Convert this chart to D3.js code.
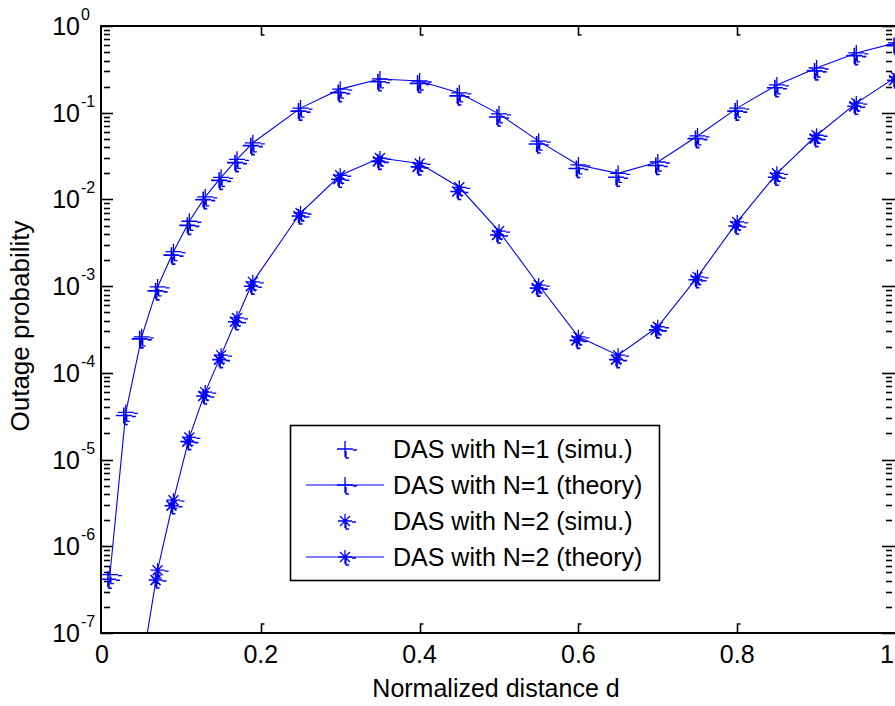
<!DOCTYPE html>
<html>
<head>
<meta charset="utf-8">
<script src="https://cdn.jsdelivr.net/npm/d3@7"></script>
<style>
  body { margin: 0; background: #fff; }
  text { font-family: "Liberation Sans", Arial, sans-serif; fill: #000; }
</style>
</head>
<body>
<script>
let width = 895,
    height = 706;

// normalized distance d
let distance = [0.01, 0.03, 0.05, 0.07, 0.09, 0.11, 0.13, 0.15, 0.17, 0.19,
    0.25, 0.30, 0.35, 0.40, 0.45, 0.50, 0.55, 0.60, 0.65, 0.70, 0.75, 0.80, 0.85, 0.90, 0.95, 1.00];

let n1Theory = [4.7e-7, 3.5e-5, 2.6e-4, 9.8e-4, 2.5e-3, 5.6e-3, 1.07e-2, 1.8e-2, 2.9e-2, 4.5e-2,
    0.113, 0.187, 0.245, 0.232, 0.169, 0.097, 0.047, 0.025, 0.020, 0.027, 0.054, 0.113, 0.209, 0.328, 0.489, 0.64];
let n1Simu = [4.4e-7, 3.4e-5, 2.6e-4, 9.3e-4, 2.4e-3, 5.3e-3, 1.05e-2, 1.75e-2, 2.8e-2, 4.4e-2,
    0.110, 0.180, 0.240, 0.230, 0.165, 0.094, 0.046, 0.024, 0.019, 0.026, 0.053, 0.110, 0.205, 0.320, 0.480, 0.63];

let n2Theory = [null, null, 4e-8, 5.3e-7, 3.4e-6, 1.8e-5, 6.0e-5, 1.6e-4, 4.3e-4, 1.12e-3,
    6.97e-3, 1.9e-2, 3.0e-2, 2.6e-2, 1.38e-2, 4.3e-3, 1.03e-3, 2.6e-4, 1.6e-4, 3.4e-4, 1.28e-3, 5.5e-3, 2.0e-2, 5.5e-2, 0.129, 0.258];
let n2Simu = [null, null, null, 4.3e-7, 3.1e-6, 1.7e-5, 5.7e-5, 1.5e-4, 4.1e-4, 1.05e-3,
    6.8e-3, 1.8e-2, 2.9e-2, 2.5e-2, 1.3e-2, 4.1e-3, 1.0e-3, 2.5e-4, 1.5e-4, 3.3e-4, 1.25e-3, 5.2e-3, 1.9e-2, 5.3e-2, 0.125, 0.25];

let xTicks = [0, 0.2, 0.4, 0.6, 0.8, 1];
let xTickLabels = ["0", "0.2", "0.4", "0.6", "0.8", "1"];
let yExponents = [0, -1, -2, -3, -4, -5, -6, -7];
let legendLabels = ["DAS with N=1 (simu.)", "DAS with N=1 (theory)", "DAS with N=2 (simu.)", "DAS with N=2 (theory)"];

let pLeft = 101, pRight = 896, pTop = 26, pBottom = 633;
let blue = "#0000ff";

let svg = d3.select("body").append("svg")
    .attr("width", width)
    .attr("height", height);

let x = d3.scaleLinear().domain([0, 1]).range([102, pRight]);
let y = d3.scaleLog().domain([1e-7, 1]).range([pBottom, pTop]);

svg.append("defs").append("clipPath").attr("id", "clip")
    .append("rect")
    .attr("x", pLeft).attr("y", pTop)
    .attr("width", pRight - pLeft).attr("height", pBottom - pTop);

// minor + major ticks on left and right
let yMinor = [];
for (let e = -7; e < 0; e++) {
    for (let k = 2; k <= 9; k++) yMinor.push(k * Math.pow(10, e));
}
let tickG = svg.append("g").attr("stroke", "#000").attr("stroke-width", 1.6);
yMinor.forEach(v => {
    let yy = Math.round(y(v)) + 0.5;
    tickG.append("line").attr("x1", pLeft + 3).attr("x2", pLeft + 9).attr("y1", yy).attr("y2", yy);
    tickG.append("line").attr("x1", pRight - 10).attr("x2", pRight - 4).attr("y1", yy).attr("y2", yy);
});
yExponents.forEach(e => {
    let yy = Math.round(y(Math.pow(10, e))) + 0.5;
    tickG.append("line").attr("x1", pLeft).attr("x2", pLeft + 12).attr("y1", yy).attr("y2", yy);
    tickG.append("line").attr("x1", pRight - 14).attr("x2", pRight).attr("y1", yy).attr("y2", yy);
});
xTicks.slice(1, -1).forEach(t => {
    let xx = Math.round(x(t)) + 0.5;
    tickG.append("path").attr("fill", "none").attr("d", `M${xx},${pTop}V${pTop + 9}H${xx + 3}`);
    tickG.append("path").attr("fill", "none").attr("d", `M${xx + 3},${pBottom - 9}H${xx}V${pBottom}`);
});

// y tick labels 10^e
yExponents.forEach(e => {
    let yy = y(Math.pow(10, e));
    svg.append("text")
        .attr("x", 80).attr("y", yy + 9)
        .attr("text-anchor", "end")
        .style("font-size", "25px")
        .text("10");
    svg.append("text")
        .attr("x", 81).attr("y", yy - 6)
        .style("font-size", "16px")
        .text(e === 0 ? "0" : "-" + (-e));
});

// x tick labels (last one pulled inside the picture edge)
svg.selectAll(".xlab")
    .data(xTicks)
    .enter().append("text")
    .attr("class", "xlab")
    .attr("x", d => d === 1 ? 894 : x(d))
    .attr("y", 663)
    .attr("text-anchor", d => d === 1 ? "end" : "middle")
    .style("font-size", "25px")
    .text((d, i) => xTickLabels[i]);

svg.append("text")
    .attr("x", 496).attr("y", 697)
    .attr("text-anchor", "middle")
    .style("font-size", "25px")
    .text("Normalized distance d");

svg.append("text")
    .attr("transform", "translate(29,326) rotate(-90)")
    .attr("text-anchor", "middle")
    .style("font-size", "26px")
    .text("Outage probability");

// marker shapes (with the little offset dashes of the original export)
let plusPath = "M-8,0H8M0,-8V8M1,2V9H4M8,1H12";
let starPath = "M-7,0H7M0,-7V7M-5,-5L5,5M-5,5L5,-5M1,2V8H4M7,1H11";

let plot = svg.append("g").attr("clip-path", "url(#clip)");

let line = d3.line()
    .defined(d => d[1] != null)
    .x(d => x(d[0]))
    .y(d => y(d[1]));

function drawSeries(values, shape, withLine, sw, dx, dy) {
    let pts = distance.map((d, i) => [d, values[i]]);
    if (withLine) {
        plot.append("path")
            .datum(pts)
            .attr("fill", "none")
            .attr("stroke", blue)
            .attr("stroke-width", 1.1)
            .attr("d", line);
    }
    plot.selectAll(null)
        .data(pts.filter(p => p[1] != null))
        .enter().append("path")
        .attr("transform", p => `translate(${x(p[0]) + dx},${y(p[1]) + dy})`)
        .attr("d", shape)
        .attr("fill", "none")
        .attr("stroke", blue)
        .attr("stroke-width", sw);
}

drawSeries(n1Theory, plusPath, true, 1.3, 0, 0);
drawSeries(n1Simu, plusPath, false, 1.6, -2, 2);
drawSeries(n2Theory, starPath, true, 1.3, 0, 0);
drawSeries(n2Simu, starPath, false, 1.6, -2, 2);

// axes frame
svg.append("rect")
    .attr("x", pLeft).attr("y", pTop)
    .attr("width", pRight - pLeft).attr("height", pBottom - pTop)
    .attr("fill", "none")
    .attr("stroke", "#000")
    .attr("stroke-width", 2);

// legend
let lg = svg.append("g");
lg.append("rect")
    .attr("x", 290.5).attr("y", 425.5)
    .attr("width", 369).attr("height", 155)
    .attr("fill", "#fff")
    .attr("stroke", "#000")
    .attr("stroke-width", 1.6);

let rowY = [449, 485, 521, 557];
let rowShape = [plusPath, plusPath, starPath, starPath];
let rowLine = [false, true, false, true];
legendLabels.forEach((lab, i) => {
    if (rowLine[i]) {
        lg.append("line")
            .attr("x1", 306).attr("x2", 384)
            .attr("y1", rowY[i]).attr("y2", rowY[i])
            .attr("stroke", blue).attr("stroke-width", 1.1);
    }
    lg.append("path")
        .attr("transform", `translate(345,${rowY[i]})`)
        .attr("d", rowShape[i])
        .attr("fill", "none")
        .attr("stroke", blue)
        .attr("stroke-width", 1.3);
    lg.append("text")
        .attr("x", 393).attr("y", rowY[i] + 9)
        .style("font-size", "25px")
        .text(lab);
});
</script>
</body>
</html>
